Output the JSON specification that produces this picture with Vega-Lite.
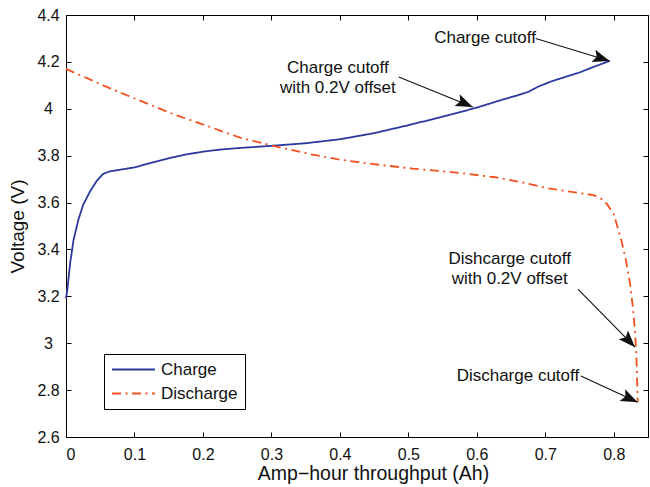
{
  "$schema": "https://vega.github.io/schema/vega-lite/v6.json",
  "width": 582,
  "height": 422,
  "autosize": "none",
  "padding": {"left": 66, "top": 15, "right": 2, "bottom": 50},
  "background": "white",
  "config": {
    "view": {"stroke": "black", "strokeWidth": 1},
    "font": "Liberation Sans",
    "axis": {
      "domainColor": "black", "tickColor": "black", "labelColor": "#111", "titleColor": "#111",
      "grid": false, "labelFont": "Liberation Sans", "titleFont": "Liberation Sans",
      "labelFontSize": 16, "titleFontWeight": "normal", "tickSize": -5, "tickWidth": 1
    }
  },
  "datasets": {
    "curves": [
      {"series": "Charge", "x": 0, "y": 3.19},
      {"series": "Charge", "x": 0.002, "y": 3.23},
      {"series": "Charge", "x": 0.006, "y": 3.34},
      {"series": "Charge", "x": 0.011, "y": 3.44},
      {"series": "Charge", "x": 0.018, "y": 3.526},
      {"series": "Charge", "x": 0.025, "y": 3.59},
      {"series": "Charge", "x": 0.035, "y": 3.647},
      {"series": "Charge", "x": 0.045, "y": 3.693},
      {"series": "Charge", "x": 0.054, "y": 3.722},
      {"series": "Charge", "x": 0.064, "y": 3.733},
      {"series": "Charge", "x": 0.079, "y": 3.74},
      {"series": "Charge", "x": 0.1, "y": 3.75},
      {"series": "Charge", "x": 0.125, "y": 3.77},
      {"series": "Charge", "x": 0.15, "y": 3.789},
      {"series": "Charge", "x": 0.175, "y": 3.805},
      {"series": "Charge", "x": 0.2, "y": 3.817},
      {"series": "Charge", "x": 0.225, "y": 3.826},
      {"series": "Charge", "x": 0.25, "y": 3.832},
      {"series": "Charge", "x": 0.3, "y": 3.842},
      {"series": "Charge", "x": 0.35, "y": 3.853},
      {"series": "Charge", "x": 0.4, "y": 3.87},
      {"series": "Charge", "x": 0.45, "y": 3.896},
      {"series": "Charge", "x": 0.5, "y": 3.93},
      {"series": "Charge", "x": 0.55, "y": 3.966},
      {"series": "Charge", "x": 0.6, "y": 4.005},
      {"series": "Charge", "x": 0.633, "y": 4.035},
      {"series": "Charge", "x": 0.66, "y": 4.058},
      {"series": "Charge", "x": 0.675, "y": 4.072},
      {"series": "Charge", "x": 0.69, "y": 4.095},
      {"series": "Charge", "x": 0.71, "y": 4.118},
      {"series": "Charge", "x": 0.75, "y": 4.155},
      {"series": "Charge", "x": 0.77, "y": 4.178},
      {"series": "Charge", "x": 0.794, "y": 4.204},
      {"series": "Discharge", "x": 0, "y": 4.17},
      {"series": "Discharge", "x": 0.054, "y": 4.1},
      {"series": "Discharge", "x": 0.102, "y": 4.042},
      {"series": "Discharge", "x": 0.157, "y": 3.977},
      {"series": "Discharge", "x": 0.205, "y": 3.928},
      {"series": "Discharge", "x": 0.253, "y": 3.878},
      {"series": "Discharge", "x": 0.301, "y": 3.843},
      {"series": "Discharge", "x": 0.355, "y": 3.807},
      {"series": "Discharge", "x": 0.4, "y": 3.783},
      {"series": "Discharge", "x": 0.446, "y": 3.765},
      {"series": "Discharge", "x": 0.506, "y": 3.745},
      {"series": "Discharge", "x": 0.566, "y": 3.729},
      {"series": "Discharge", "x": 0.627, "y": 3.708},
      {"series": "Discharge", "x": 0.663, "y": 3.688},
      {"series": "Discharge", "x": 0.705, "y": 3.66},
      {"series": "Discharge", "x": 0.747, "y": 3.642},
      {"series": "Discharge", "x": 0.77, "y": 3.632},
      {"series": "Discharge", "x": 0.78, "y": 3.62},
      {"series": "Discharge", "x": 0.79, "y": 3.594},
      {"series": "Discharge", "x": 0.8, "y": 3.55},
      {"series": "Discharge", "x": 0.811, "y": 3.44},
      {"series": "Discharge", "x": 0.818, "y": 3.35},
      {"series": "Discharge", "x": 0.824, "y": 3.25},
      {"series": "Discharge", "x": 0.828, "y": 3.15},
      {"series": "Discharge", "x": 0.831, "y": 3.05},
      {"series": "Discharge", "x": 0.833, "y": 2.95},
      {"series": "Discharge", "x": 0.834, "y": 2.85},
      {"series": "Discharge", "x": 0.835, "y": 2.75}
    ],
    "notes": [
      {"label": "Charge cutoff", "x": 0.612, "y": 4.3},
      {"label": "Charge cutoff", "x": 0.397, "y": 4.174},
      {"label": "with 0.2V offset", "x": 0.397, "y": 4.089},
      {"label": "Dishcarge cutoff", "x": 0.648, "y": 3.36},
      {"label": "with 0.2V offset", "x": 0.648, "y": 3.274},
      {"label": "Discharge cutoff", "x": 0.66, "y": 2.861}
    ],
    "arrows": [
      {"id": "a1", "x": 0.686, "y": 4.3, "x2": 0.794, "y2": 4.204},
      {"id": "a2", "x": 0.486, "y": 4.136, "x2": 0.594, "y2": 4.008},
      {"id": "a3", "x": 0.748, "y": 3.23, "x2": 0.831, "y2": 2.983},
      {"id": "a4", "x": 0.752, "y": 2.86, "x2": 0.835, "y2": 2.748}
    ]
  },
  "layer": [
    {
      "data": {"name": "curves"},
      "mark": {"type": "line", "strokeWidth": 1.8, "strokeCap": "butt"},
      "encoding": {
        "x": {"field": "x", "type": "quantitative",
          "scale": {"domain": [0, 0.85], "nice": false, "zero": false},
          "axis": {"orient": "bottom", "values": [0, 0.1, 0.2, 0.3, 0.4, 0.5, 0.6, 0.7, 0.8], "format": ".1~f",
            "labelPadding": 14, "title": "Amp−hour throughput (Ah)", "titleFontSize": 19.5, "titlePadding": 2, "titleX": 307}},
        "y": {"field": "y", "type": "quantitative",
          "scale": {"domain": [2.6, 4.4], "nice": false, "zero": false},
          "axis": {"orient": "left", "values": [2.6, 2.8, 3, 3.2, 3.4, 3.6, 3.8, 4, 4.2, 4.4], "format": ".1~f",
            "labelAlign": "center", "labelPadding": 23, "title": "Voltage (V)", "titleFontSize": 19, "titlePadding": 9}},
        "color": {"field": "series", "type": "nominal",
          "scale": {"domain": ["Charge", "Discharge"], "range": ["#2b3a9c", "#f5501f"]},
          "legend": {"orient": "none", "legendX": 38, "legendY": 339, "title": null, "symbolType": "stroke",
            "symbolSize": 1850, "symbolStrokeWidth": 2, "labelFontSize": 17, "labelFont": "Liberation Sans",
            "labelColor": "#111", "fillColor": "white", "strokeColor": "black", "padding": 6.5, "rowPadding": 6,
            "labelOffset": 4.5, "clipHeight": 18}},
        "strokeDash": {"field": "series", "type": "nominal",
          "scale": {"domain": ["Charge", "Discharge"], "range": [[1, 0], [9, 4.5, 2, 4.5]]},
          "legend": {"orient": "none", "legendX": 38, "legendY": 339, "title": null, "symbolType": "stroke",
            "symbolSize": 1850, "symbolStrokeWidth": 2, "labelFontSize": 17, "labelFont": "Liberation Sans",
            "labelColor": "#111", "fillColor": "white", "strokeColor": "black", "padding": 6.5, "rowPadding": 6,
            "labelOffset": 4.5, "clipHeight": 18}}
      }
    },
    {
      "data": {"name": "notes"},
      "mark": {"type": "text", "fontSize": 17, "font": "Liberation Sans", "color": "#111", "align": "center", "baseline": "middle"},
      "encoding": {
        "x": {"field": "x", "type": "quantitative",
          "axis": {"orient": "top", "values": [0, 0.1, 0.2, 0.3, 0.4, 0.5, 0.6, 0.7, 0.8], "labels": false, "title": null, "domain": false}},
        "y": {"field": "y", "type": "quantitative",
          "axis": {"orient": "right", "values": [2.6, 2.8, 3, 3.2, 3.4, 3.6, 3.8, 4, 4.2, 4.4], "labels": false, "title": null, "domain": false}},
        "text": {"field": "label"}
      }
    },
    {
      "data": {"name": "arrows"},
      "mark": {"type": "rule", "color": "#111", "strokeWidth": 1.1},
      "encoding": {
        "x": {"field": "x", "type": "quantitative", "axis": null},
        "y": {"field": "y", "type": "quantitative", "axis": null},
        "x2": {"field": "x2"},
        "y2": {"field": "y2"}
      }
    },
    {
      "data": {"name": "arrows"},
      "transform": [{"filter": "datum.id == 'a1'"}],
      "mark": {"type": "point", "shape": "M0,0L-1,-0.38L-0.8,0L-1,0.38Z", "filled": true, "color": "#111", "size": 1150, "angle": 17.5, "opacity": 1},
      "encoding": {"x": {"field": "x2", "type": "quantitative", "axis": null}, "y": {"field": "y2", "type": "quantitative", "axis": null}}
    },
    {
      "data": {"name": "arrows"},
      "transform": [{"filter": "datum.id == 'a2'"}],
      "mark": {"type": "point", "shape": "M0,0L-1,-0.38L-0.8,0L-1,0.38Z", "filled": true, "color": "#111", "size": 1150, "angle": 23.3, "opacity": 1},
      "encoding": {"x": {"field": "x2", "type": "quantitative", "axis": null}, "y": {"field": "y2", "type": "quantitative", "axis": null}}
    },
    {
      "data": {"name": "arrows"},
      "transform": [{"filter": "datum.id == 'a3'"}],
      "mark": {"type": "point", "shape": "M0,0L-1,-0.38L-0.8,0L-1,0.38Z", "filled": true, "color": "#111", "size": 1150, "angle": 46.7, "opacity": 1},
      "encoding": {"x": {"field": "x2", "type": "quantitative", "axis": null}, "y": {"field": "y2", "type": "quantitative", "axis": null}}
    },
    {
      "data": {"name": "arrows"},
      "transform": [{"filter": "datum.id == 'a4'"}],
      "mark": {"type": "point", "shape": "M0,0L-1,-0.38L-0.8,0L-1,0.38Z", "filled": true, "color": "#111", "size": 1150, "angle": 25.2, "opacity": 1},
      "encoding": {"x": {"field": "x2", "type": "quantitative", "axis": null}, "y": {"field": "y2", "type": "quantitative", "axis": null}}
    }
  ],
  "resolve": {"axis": {"x": "independent", "y": "independent"}}
}
